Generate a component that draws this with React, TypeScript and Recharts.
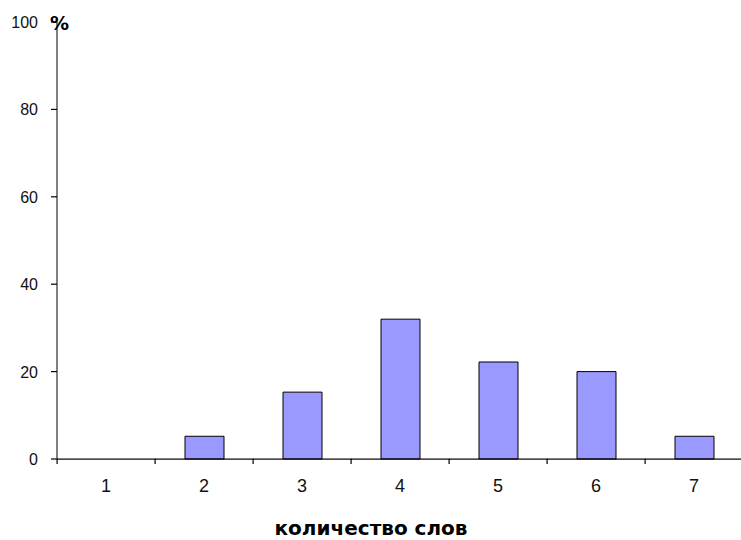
import { BarChart, Bar, XAxis, YAxis } from 'recharts';

const categories = ['1', '2', '3', '4', '5', '6', '7'];
const shares = [0, 5.2, 15.3, 32, 22.2, 20, 5.2];
const yTicks = [0, 20, 40, 60, 80, 100];

const data = categories.map((c, i) => ({ words: c, share: shares[i] }));

const FONT = '"Liberation Sans", Arial, sans-serif';
const BOLD = '"DejaVu Sans", Verdana, sans-serif';
const LEFT = 57;
const AXIS_Y = 459;
const BAND = (743 - LEFT) / 7;

// horizontal strokes drawn as 1px rects
function XTick(props: any) {
  const { x, payload } = props;
  const left = x - BAND / 2;
  return (
    <g>
      <rect x={left} y={AXIS_Y - 0.5} width={BAND + 0.5} height={1.2} fill="#000" />
      <rect x={left - 0.5} y={AXIS_Y} width={1.2} height={5} fill="#000" />
      <text x={x} y={AXIS_Y + 33} textAnchor="middle" fontFamily={FONT} fontSize={18} fill="#111">
        {payload.value}
      </text>
    </g>
  );
}

function YTick(props: any) {
  const { y, payload } = props;
  return (
    <g>
      <rect x={LEFT - 6} y={y - 0.6} width={6} height={1.2} fill="#000" />
      <text x={LEFT - 19} y={y + 6} textAnchor="end" fontFamily={FONT} fontSize={16} fill="#111">
        {payload.value}
      </text>
    </g>
  );
}

export default function App() {
  return (
    <div style={{ position: 'absolute', left: 0, top: 0, background: '#fff' }}>
      <BarChart
        width={741}
        height={540}
        data={data}
        margin={{ top: 22, right: -2, left: 0, bottom: 0 }}
        barCategoryGap={0}
      >
        <XAxis
          dataKey="words"
          height={81}
          stroke="#000"
          axisLine={false}
          tickLine={false}
          tick={<XTick />}
          interval={0}
          label={{
            value: 'количество слов',
            content: () => (
              <text x={371} y={535} textAnchor="middle" fontFamily={BOLD} fontSize={20} fontWeight="bold" fill="#000">
                количество слов
              </text>
            ),
          }}
        />
        <YAxis
          width={LEFT}
          domain={[0, 100]}
          ticks={yTicks}
          interval={0}
          stroke="#000"
          axisLine={{ stroke: '#000', strokeWidth: 1 }}
          tickLine={false}
          tick={<YTick />}
          label={{
            value: '%',
            content: () => (
              <text x={50} y={30} fontFamily={BOLD} fontSize={19} fontWeight="bold" fill="#000">
                %
              </text>
            ),
          }}
        />
        <Bar
          dataKey="share"
          fill="#9999ff"
          stroke="#000"
          strokeWidth={1}
          barSize={39}
          isAnimationActive={false}
        />
      </BarChart>
    </div>
  );
}
